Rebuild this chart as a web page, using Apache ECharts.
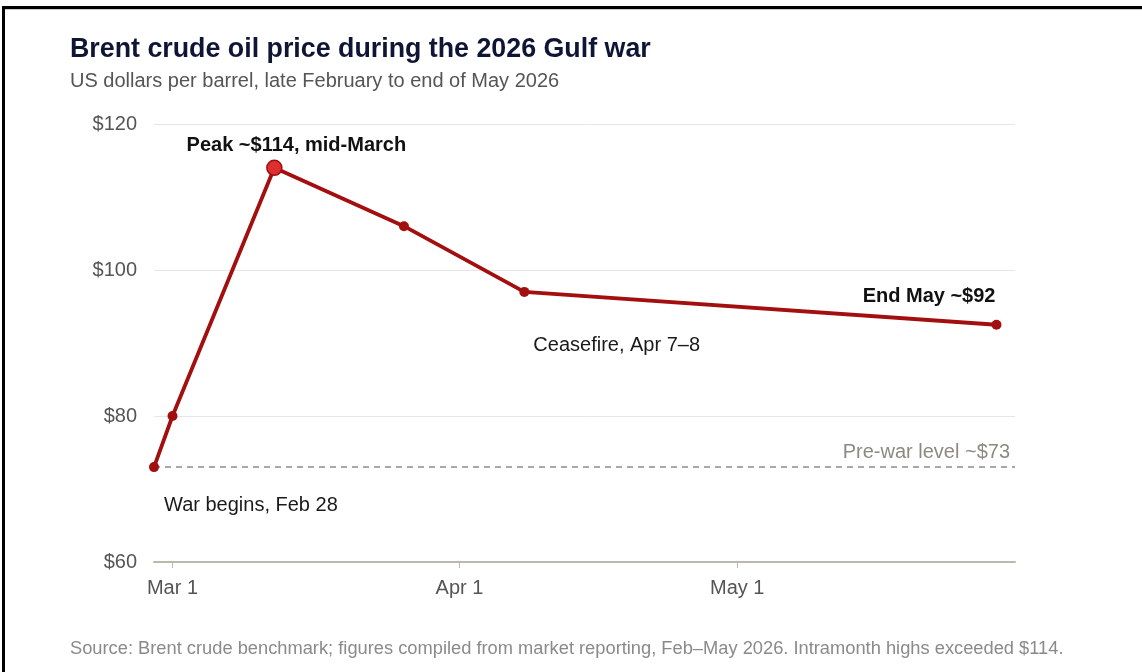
<!DOCTYPE html>
<html><head><meta charset="utf-8">
<script src="https://cdn.jsdelivr.net/npm/echarts@6/dist/echarts.min.js"></script>
<style>
html,body{margin:0;padding:0;background:#fff;width:1142px;height:672px;overflow:hidden;}
#chart{position:absolute;left:0;top:0;width:1142px;height:672px;}
#bt{position:absolute;left:2px;top:6px;width:1140px;height:2.5px;background:#000;}
#bt2{position:absolute;left:5px;top:8.5px;width:1137px;height:1px;background:#ccc;}
#bl{position:absolute;left:2px;top:6px;width:3px;height:666px;background:#000;}
</style></head>
<body>
<div id="chart"></div>
<div id="bt"></div><div id="bt2"></div><div id="bl"></div>
<script>
// ---- data ----
const dates = ['2026-02-27', '2026-03-01', '2026-03-12', '2026-03-26', '2026-04-08', '2026-05-29'];
const prices = [73, 80, 114, 106, 97, 92.5];
const annotations = ['War begins, Feb 28', '', 'Peak ~$114, mid-March', '', 'Ceasefire, Apr 7\u20138', 'End May ~$92'];
const tickDates = ['2026-03-01', '2026-04-01', '2026-05-01'];
const tickLabels = ['Mar 1', 'Apr 1', 'May 1'];
const xRange = ['2026-02-27', '2026-05-31'];
const yMin = 60, yMax = 120, yInterval = 20;
const preWarLevel = 73;
const preWarLabel = 'Pre-war level ~$73';

// ---- helpers ----
const ts = s => { const [y, m, d] = s.split('-').map(Number); return Date.UTC(y, m - 1, d); };
const tickTs = tickDates.map(ts);
const FONT = "'Liberation Sans', Arial, Helvetica, sans-serif";
const RED = '#a30f0f';

// label placement per point (styling only)
const labelCfg = {
  0: { position: 'right', offset: [0, 38], fontSize: 20, color: '#1a1a1a' },
  2: { position: 'top', offset: [22, 1], fontSize: 20, fontWeight: 'bold', color: '#111' },
  4: { position: 'right', offset: [-1, 54], fontSize: 20, color: '#1a1a1a' },
  5: { position: 'top', align: 'right', offset: [-1, -8], fontSize: 20, fontWeight: 'bold', color: '#111' }
};

const seriesData = dates.map((d, i) => {
  const item = { value: [ts(d), prices[i]] };
  if (annotations[i]) {
    item.label = Object.assign({ show: true, formatter: annotations[i], fontFamily: FONT }, labelCfg[i]);
  }
  if (i === 2) {
    item.symbolSize = 15;
    item.itemStyle = { color: '#dc2f2f', borderColor: RED, borderWidth: 1.5 };
  }
  return item;
});

const chart = echarts.init(document.getElementById('chart'), null, { renderer: 'canvas' });
chart.setOption({
  animation: false,
  backgroundColor: '#fff',
  textStyle: { fontFamily: FONT },
  title: [
    { text: 'Brent crude oil price during the 2026 Gulf war', left: 65, top: 31,
      textStyle: { fontSize: 26.8, fontWeight: 'bold', color: '#0f1535', fontFamily: FONT } },
    { text: 'US dollars per barrel, late February to end of May 2026', left: 65, top: 66,
      textStyle: { fontSize: 20, fontWeight: 'normal', color: '#555', fontFamily: FONT } },
    { text: 'Source: Brent crude benchmark; figures compiled from market reporting, Feb\u2013May 2026. Intramonth highs exceeded $114.',
      left: 65, top: 635,
      textStyle: { fontSize: 18.3, fontWeight: 'normal', color: '#8a8a8a', fontFamily: FONT } }
  ],
  grid: { left: 154, right: 127, top: 124, bottom: 110 },
  xAxis: {
    type: 'value',
    min: ts(xRange[0]), max: ts(xRange[1]),
    axisLine: { lineStyle: { color: '#bdb8ac', width: 2 } },
    axisTick: { show: true, length: 6, lineStyle: { color: '#bdb8ac', width: 1 }, customValues: tickTs },
    axisLabel: {
      customValues: tickTs,
      margin: 16, fontSize: 20, color: '#555', fontFamily: FONT,
      formatter: v => { const k = tickTs.indexOf(v); return k >= 0 ? tickLabels[k] : ''; }
    },
    splitLine: { show: false }
  },
  yAxis: {
    type: 'value', min: yMin, max: yMax, interval: yInterval,
    axisLine: { show: false }, axisTick: { show: false },
    axisLabel: { margin: 17, fontSize: 20, color: '#555', fontFamily: FONT, formatter: v => '$' + v },
    splitLine: { lineStyle: { color: '#e6e6e6', width: 1 } }
  },
  series: [{
    type: 'line',
    data: seriesData,
    symbol: 'circle', symbolSize: 10,
    lineStyle: { color: RED, width: 3.8 },
    itemStyle: { color: RED },
    z: 3,
    markLine: {
      silent: true, symbol: 'none',
      lineStyle: { color: '#8c8c8c', type: [6, 5], width: 1.5 },
      label: { show: true, position: 'insideEndTop', formatter: preWarLabel, fontSize: 20, color: '#8c8a80', fontFamily: FONT, distance: [5, 5] },
      data: [{ yAxis: preWarLevel }],
      z: 1
    }
  }]
});
</script>
</body></html>
